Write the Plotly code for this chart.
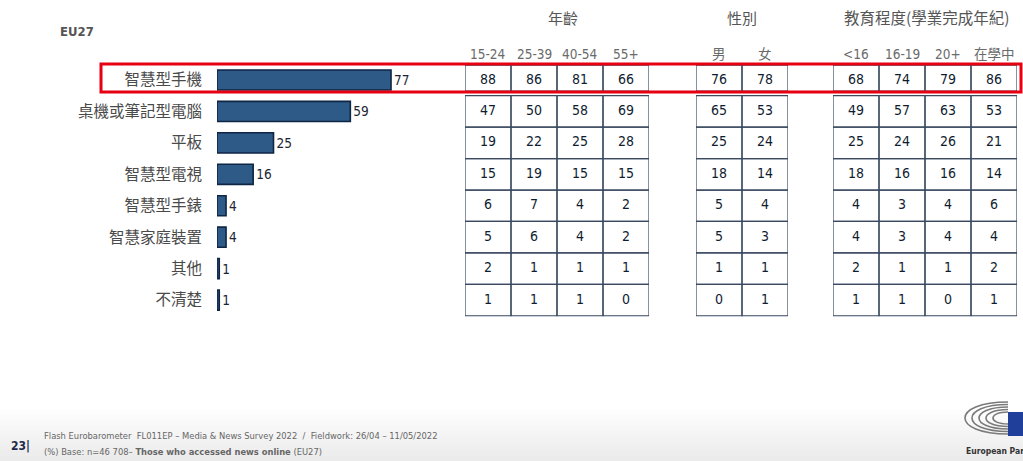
import plotly.graph_objects as go

# ---------------- data ----------------
categories = ["智慧型手機", "桌機或筆記型電腦", "平板", "智慧型電視",
              "智慧型手錶", "智慧家庭裝置", "其他", "不清楚"]
eu27 = [77, 59, 25, 16, 4, 4, 1, 1]

age_title = "年齡"
age_cols = ["15-24", "25-39", "40-54", "55+"]
age_15_24 = [88, 47, 19, 15, 6, 5, 2, 1]
age_25_39 = [86, 50, 22, 19, 7, 6, 1, 1]
age_40_54 = [81, 58, 25, 15, 4, 4, 1, 1]
age_55p = [66, 69, 28, 15, 2, 2, 1, 0]

gender_title = "性別"
gender_cols = ["男", "女"]
male = [76, 65, 25, 18, 5, 5, 1, 0]
female = [78, 53, 24, 14, 4, 3, 1, 1]

edu_title = "教育程度(學業完成年紀)"
edu_cols = ["<16", "16-19", "20+", "在學中"]
edu_lt16 = [68, 49, 25, 18, 4, 4, 2, 1]
edu_16_19 = [74, 57, 24, 16, 3, 3, 1, 1]
edu_20p = [79, 63, 26, 16, 4, 4, 1, 0]
edu_still = [86, 53, 21, 14, 6, 4, 2, 1]

FONT = "Liberation Sans Narrow, Arial Narrow, DejaVu Sans Condensed, Noto Sans CJK TC, sans-serif"
CJK = "Noto Sans CJK TC, DejaVu Sans Condensed, sans-serif"
W, H = 1023, 461

def px(x):
    return x / W

def py(y):
    return 1 - y / H

rows = list(range(len(categories)))
fig = go.Figure()

# bars
fig.add_trace(go.Bar(
    x=eu27, y=rows, orientation="h", width=0.64,
    marker=dict(color="#2e5a88", line=dict(color="#0f2544", width=1.6)),
    text=eu27, textposition="outside", cliponaxis=False,
    textfont=dict(family=FONT, size=13.5, color="#1c2533"),
    hoverinfo="skip", xaxis="x", yaxis="y"))

groups = [
    ("x2", age_title, age_cols, [age_15_24, age_25_39, age_40_54, age_55p], 563, 15),
    ("x3", gender_title, gender_cols, [male, female], 742, 15),
    ("x4", edu_title, edu_cols, [edu_lt16, edu_16_19, edu_20p, edu_still], 926, 15.5),
]

shapes = []
annotations = []
grid_col = "#3a4a60"

for ax, title, cols, series, tcx, tsize in groups:
    for ci, (col, vals) in enumerate(zip(cols, series)):
        fig.add_trace(go.Scatter(
            x=[col] * len(vals), y=rows, text=[str(v) for v in vals], mode="text",
            textfont=dict(family=FONT, size=14, color="#101c30"),
            hoverinfo="skip", xaxis=ax, yaxis="y", showlegend=False))
        annotations.append(dict(
            x=ci, y=-0.83, xref=ax, yref="y", xanchor="center", yanchor="middle",
            text=col.replace("<", "&lt;"),
            showarrow=False, font=dict(family=FONT, size=13.5, color="#6a6a6a")))
        for r in rows:
            if r == 0:
                y0, y1 = -0.47, 0.35
            else:
                y0, y1 = r - 0.5, r + 0.5
            shapes.append(dict(type="rect", xref=ax, yref="y",
                               x0=ci - 0.5, x1=ci + 0.5, y0=y0, y1=y1,
                               line=dict(color=grid_col, width=1.2), layer="below"))
    annotations.append(dict(
        x=px(tcx), y=-2.0, xref="paper", yref="y", xanchor="center", yanchor="middle",
        text=title, showarrow=False, font=dict(family=CJK, size=tsize, color="#555555")))

# highlight box
shapes.append(dict(type="rect", xref="paper", yref="y",
                   x0=px(101), x1=px(1021), y0=-0.51, y1=0.38,
                   line=dict(color="#e60012", width=3), layer="above"))

# bottom gradient band
steps = 10
for i in range(steps):
    ytop = 410 + i * (H - 410) / steps
    shapes.append(dict(type="rect", xref="paper", yref="paper",
                       x0=0, x1=1, y0=0, y1=py(ytop),
                       fillcolor="rgba(210,210,210,0.035)", line=dict(width=0),
                       layer="below"))

# logo: hemicycle arcs and flag
cx, cy = 1008, 418
for rx, ry in [(43, 16), (36, 13.5), (29, 11), (22, 8.5), (15, 6)]:
    k4 = 4 / 3
    path = (f"M {px(cx)} {py(cy - ry)} "
            f"C {px(cx - k4 * rx)} {py(cy - ry)} {px(cx - k4 * rx)} {py(cy + ry)} {px(cx)} {py(cy + ry)}")
    shapes.append(dict(type="path", xref="paper", yref="paper", path=path,
                       line=dict(color="#7a7a7a", width=1.6)))
shapes.append(dict(type="rect", xref="paper", yref="paper",
                   x0=px(1008), x1=px(1023), y0=py(436), y1=py(412),
                   fillcolor="#1f3f9a", line=dict(width=0)))

annotations += [
    dict(x=px(58), y=py(31), xref="paper", yref="paper", xanchor="left", yanchor="middle",
         text="<b>EU27</b>", showarrow=False,
         font=dict(family=FONT, size=13, color="#555555")),
    dict(x=px(9), y=py(446), xref="paper", yref="paper", xanchor="left", yanchor="middle",
         text="<b>23|</b>", showarrow=False,
         font=dict(family=FONT, size=12, color="#1b2a4a")),
    dict(x=px(42), y=py(435), xref="paper", yref="paper", xanchor="left", yanchor="middle",
         text="Flash Eurobarometer  FL011EP – Media &amp; News Survey 2022  /  Fieldwork: 26/04 – 11/05/2022",
         showarrow=False, font=dict(family=FONT, size=9.3, color="#666666")),
    dict(x=px(42), y=py(451), xref="paper", yref="paper", xanchor="left", yanchor="middle",
         text="(%) Base: n=46 708– <b>Those who accessed news online</b> (EU27)",
         showarrow=False, font=dict(family=FONT, size=9.3, color="#666666")),
    dict(x=px(964), y=py(451), xref="paper", yref="paper", xanchor="left", yanchor="middle",
         text="<b>European Parliament</b>", showarrow=False,
         font=dict(family=FONT, size=8.5, color="#333333")),
]

hidden = dict(visible=False, showgrid=False, zeroline=False, anchor="y")
fig.update_layout(
    width=W, height=H, margin=dict(l=0, r=0, t=0, b=0),
    paper_bgcolor="white", plot_bgcolor="rgba(0,0,0,0)", showlegend=False,
    xaxis=dict(domain=[px(217), px(443)], range=[0, 100], **hidden),
    xaxis2=dict(domain=[px(465), px(649)], type="category", categoryarray=age_cols,
                range=[-0.5, 3.5], **hidden),
    xaxis3=dict(domain=[px(696), px(788)], type="category", categoryarray=gender_cols,
                range=[-0.5, 1.5], **hidden),
    xaxis4=dict(domain=[px(833), px(1017)], type="category", categoryarray=edu_cols,
                range=[-0.5, 3.5], **hidden),
    yaxis=dict(domain=[0, 1], range=[12.12, -2.545], anchor="x",
               tickvals=rows, ticktext=categories, ticks="outside", ticklen=11,
               tickcolor="rgba(0,0,0,0)", showgrid=False, zeroline=False, showline=False,
               tickfont=dict(family=FONT, size=15.5, color="#4a4a4a")),
    shapes=shapes, annotations=annotations,
)

fig.write_html("out.html", config={"displayModeBar": False},
               post_script="document.body.style.margin='0';document.body.style.overflow='hidden';")
